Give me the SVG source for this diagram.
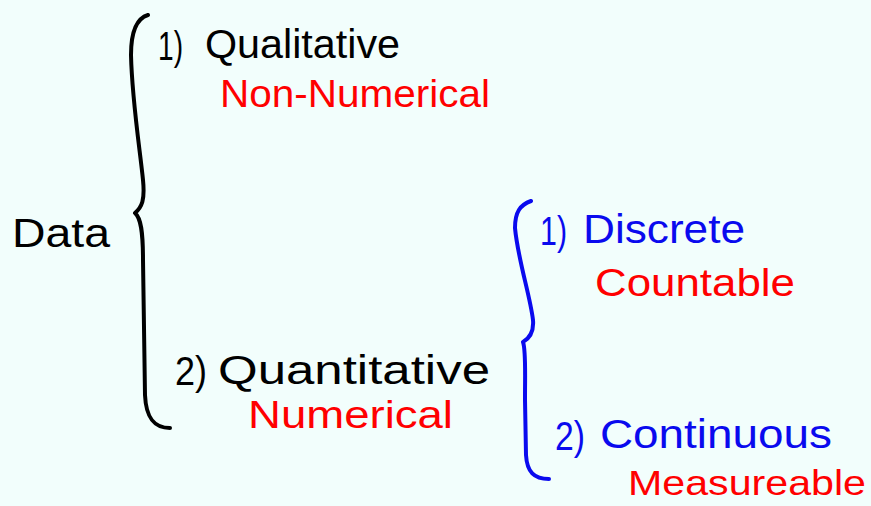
<svg xmlns="http://www.w3.org/2000/svg" width="871" height="506" viewBox="0 0 871 506">
<style>
.t{font-family:"Liberation Sans","DejaVu Sans",sans-serif;font-size:40px}
.k{fill:#000}
.r{fill:#FF0000;font-size:38px}
.b{fill:#0A0AEE}
.br{fill:none;stroke-width:4;stroke-linecap:round;stroke-linejoin:round}
</style>
<rect width="871" height="506" fill="#F2FEFC"/>
<g id="connectors">
<path class="br" stroke="#000" d="M148 15 C138 18 131 30 131 55 C132 100 140 150 143 180 C145 200 142 207 135 213 C141 218 143 232 143 260 L145 395 C146 418 154 428 170 428"/>
<path class="br" stroke="#0A0AEE" d="M531 201 C520 205 515 212 515 228 C518 260 530 295 533 320 C534 332 530 338 523 342 C526 350 525 370 525 400 L526 455 C527 472 534 479 549 479"/>
</g>
<g id="data"><text class="t k" x="12" y="247" textLength="98" lengthAdjust="spacingAndGlyphs">Data</text></g>
<g id="qualitative">
<text class="t k" x="158" y="60" textLength="25" lengthAdjust="spacingAndGlyphs">1)</text>
<text class="t k" x="205" y="58" textLength="195" lengthAdjust="spacingAndGlyphs">Qualitative</text>
<text class="t r" x="220" y="107" textLength="270" lengthAdjust="spacingAndGlyphs">Non-Numerical</text>
</g>
<g id="quantitative">
<text class="t k" x="175" y="385" textLength="32" lengthAdjust="spacingAndGlyphs">2)</text>
<text class="t k" x="218" y="384" textLength="272" lengthAdjust="spacingAndGlyphs">Quantitative</text>
<text class="t r" x="248" y="428" textLength="205" lengthAdjust="spacingAndGlyphs">Numerical</text>
</g>
<g id="discrete">
<text class="t b" x="540" y="245" textLength="27" lengthAdjust="spacingAndGlyphs">1)</text>
<text class="t b" x="583" y="243" textLength="162" lengthAdjust="spacingAndGlyphs">Discrete</text>
<text class="t r" x="595" y="296" textLength="200" lengthAdjust="spacingAndGlyphs">Countable</text>
</g>
<g id="continuous">
<text class="t b" x="555" y="450" textLength="30" lengthAdjust="spacingAndGlyphs">2)</text>
<text class="t b" x="600" y="448" textLength="232" lengthAdjust="spacingAndGlyphs">Continuous</text>
<text class="t r" x="628" y="495" style="font-size:35px" textLength="238" lengthAdjust="spacingAndGlyphs">Measureable</text>
</g>
</svg>
